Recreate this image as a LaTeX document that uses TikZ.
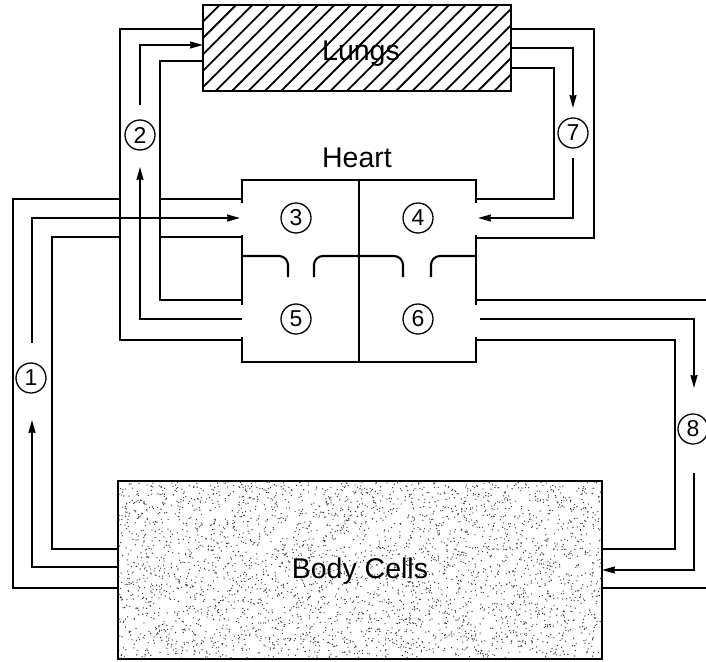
\documentclass[tikz,border=0pt]{standalone}
\usepackage{fontspec}
\setmainfont{Liberation Sans}
\usetikzlibrary{arrows.meta}
\tikzset{
  wall/.style={line width=2.1pt, line join=miter, line cap=butt},
  flow/.style={line width=1.9pt, line join=miter, -{Stealth[length=13pt,width=7pt,inset=1pt]}},
  num/.style={circle, draw, line width=1.3pt, minimum size=30pt, inner sep=0pt, font=\fontsize{23}{23}\selectfont},
  lbl/.style={font=\fontsize{28.5}{28.5}\selectfont, anchor=base, inner sep=0pt},
  boxline/.style={line width=2.1pt},
  valve/.style={line width=2.1pt, rounded corners=9pt}
}
\begin{document}
\begin{tikzpicture}[x=1pt,y=-1pt]
\useasboundingbox (0,0) rectangle (706,661);
% ---------- Lungs ----------
\coordinate (lungsNW) at (203,5);
\coordinate (lungsSE) at (511,91);
\begin{scope}
  \clip (lungsNW) rectangle (lungsSE);
  \foreach \i in {-100,-83.6,...,540} {
    \draw[line width=1.8pt] (\i,95) -- (\i+90,5);
  }
\end{scope}
\draw[boxline] (lungsNW) rectangle (lungsSE);
\node[lbl] (lungs) at (361,60) {Lungs};
% ---------- Body cells ----------
\coordinate (bodyNW) at (118,481);
\coordinate (bodySE) at (602,659);
\begin{scope}
  \pgfmathsetseed{12345}
  \clip (bodyNW) rectangle (bodySE);
  \foreach \k in {1,...,3600} {
    \fill[black!80] (118+484*rnd,481+178*rnd) circle[radius=0.68];
  }
\end{scope}
\draw[boxline] (bodyNW) rectangle (bodySE);
\node[lbl] (body) at (360,578) {Body Cells};
% ---------- Heart ----------
\node[lbl] (heart) at (357,167) {Heart};
\draw[boxline] (242,203) -- (242,180) -- (476,180) -- (476,203);
\draw[boxline] (242,235) -- (242,305);
\draw[boxline] (476,235) -- (476,305);
\draw[boxline] (242,337) -- (242,362) -- (476,362) -- (476,337);
\draw[boxline] (359,180) -- (359,362);
\draw[valve] (242,256) -- (288,256) -- (288,277);
\draw[valve] (314,277) -- (314,256) -- (403,256) -- (403,277);
\draw[valve] (431,277) -- (431,256) -- (476,256);
\node[num] (n3) at (296,218) {3};
\node[num] (n4) at (418,218) {4};
\node[num] (n5) at (296,319) {5};
\node[num] (n6) at (418,319) {6};
% ---------- Pipe 1 (body -> heart 3) ----------
\draw[wall] (118,588) -- (13,588) -- (13,199) -- (120,199);
\draw[wall] (160,199) -- (242,199);
\draw[wall] (118,549) -- (52,549) -- (52,237) -- (120,237);
\draw[wall] (160,237) -- (242,237);
\node[num] (n1) at (31,378) {1};
\draw[flow] (118,567) -- (32,567) -- (32,420);
\draw[flow] (32,343) -- (32,218) -- (240,218);
% ---------- Pipe 2 (heart 5 -> lungs) ----------
\draw[wall] (203,29) -- (120,29) -- (120,340) -- (242,340);
\draw[wall] (203,61) -- (160,61) -- (160,300) -- (242,300);
\node[num] (n2) at (140,135) {2};
\draw[flow] (242,319) -- (140,319) -- (140,167);
\draw[flow] (140,105) -- (140,45) -- (203,45);
% ---------- Pipe 7 (lungs -> heart 4) ----------
\draw[wall] (511,29) -- (594,29) -- (594,238) -- (476,238);
\draw[wall] (511,68) -- (554,68) -- (554,199) -- (476,199);
\node[num] (n7) at (573,133) {7};
\draw[flow] (511,48) -- (573,48) -- (573,108);
\draw[flow] (573,158) -- (573,218) -- (478,218);
% ---------- Pipe 8 (heart 6 -> body) ----------
\draw[wall] (476,300) -- (706,300);
\draw[wall] (602,588) -- (706,588);
\draw[wall] (476,340) -- (675,340) -- (675,549) -- (602,549);
\node[num] (n8) at (693,429) {8};
\draw[flow] (480,319) -- (694,319) -- (694,388);
\draw[flow] (694,473) -- (694,570) -- (602,570);
\end{tikzpicture}
\end{document}
